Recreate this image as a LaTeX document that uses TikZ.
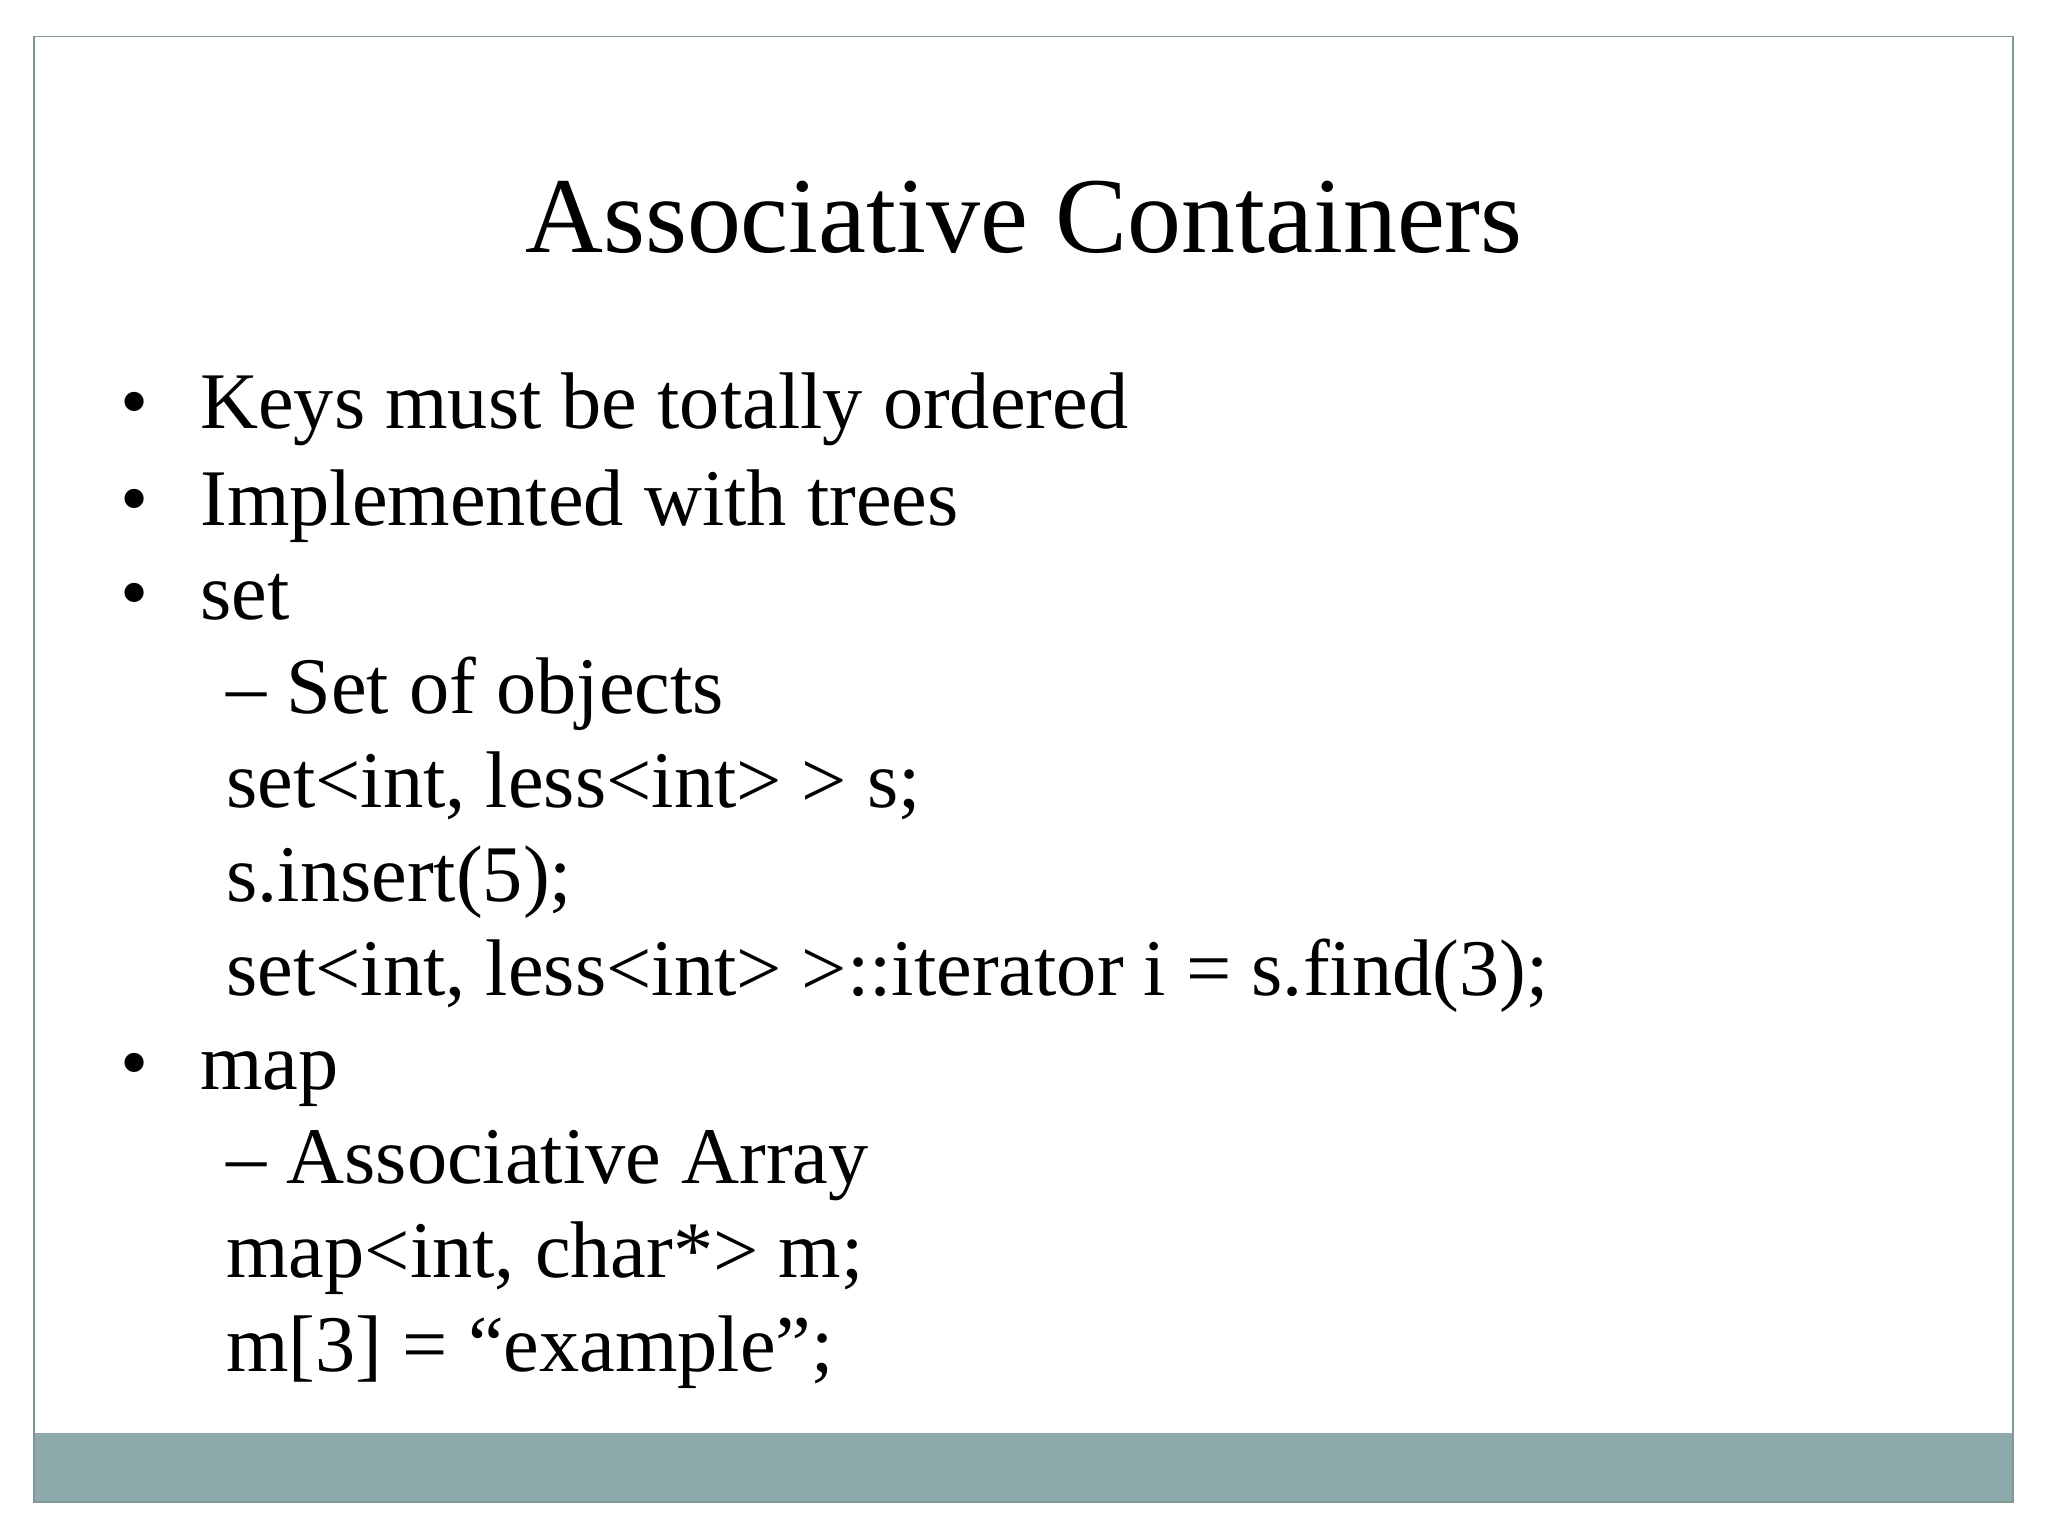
\documentclass[tikz,border=0pt]{standalone}
\usepackage{fontspec}
\setmainfont{Liberation Serif}
\begin{document}
\begin{tikzpicture}[x=0.02cm,y=-0.02cm,
  txt/.style={anchor=base west,inner sep=0pt,font=\fontsize{35}{42}\selectfont},
  bul/.style={anchor=base,inner sep=0pt,font=\fontsize{35}{42}\selectfont}]
\useasboundingbox (0,0) rectangle (1568,1176);
\fill[white] (0,0) rectangle (1568,1176);
\fill[fill={rgb,255:red,143;green,170;blue,173}] (26,1097) rectangle (1541,1150);
\draw[draw={rgb,255:red,130;green,150;blue,150},line width=0.8pt] (26,28) rectangle (1541,1150);
\node[anchor=base,inner sep=0pt,font=\fontsize{47}{56}\selectfont] (title) at (784,193) {Associative Containers};
\node[bul] (b1) at (103,328) {•}; \node[txt] (t1) at (153,328) {Keys must be totally ordered};
\node[bul] (b2) at (103,402) {•}; \node[txt] (t2) at (153,402) {Implemented with trees};
\node[bul] (b3) at (103,474) {•}; \node[txt] (t3) at (153,474) {set};
\node[txt] (t4) at (173,546) {– Set of objects};
\node[txt] (t5) at (173,618) {set<int, less<int> > s;};
\node[txt] (t6) at (173,690) {s.insert(5);};
\node[txt] (t7) at (173,762) {set<int, less<int> >::iterator i = s.find(3);};
\node[bul] (b4) at (103,834) {•}; \node[txt] (t8) at (153,834) {map};
\node[txt] (t9) at (173,906) {– Associative Array};
\node[txt] (t10) at (173,978) {map<int, char*> m;};
\node[txt] (t11) at (173,1050) {m[3] = “example”;};
\end{tikzpicture}
\end{document}
